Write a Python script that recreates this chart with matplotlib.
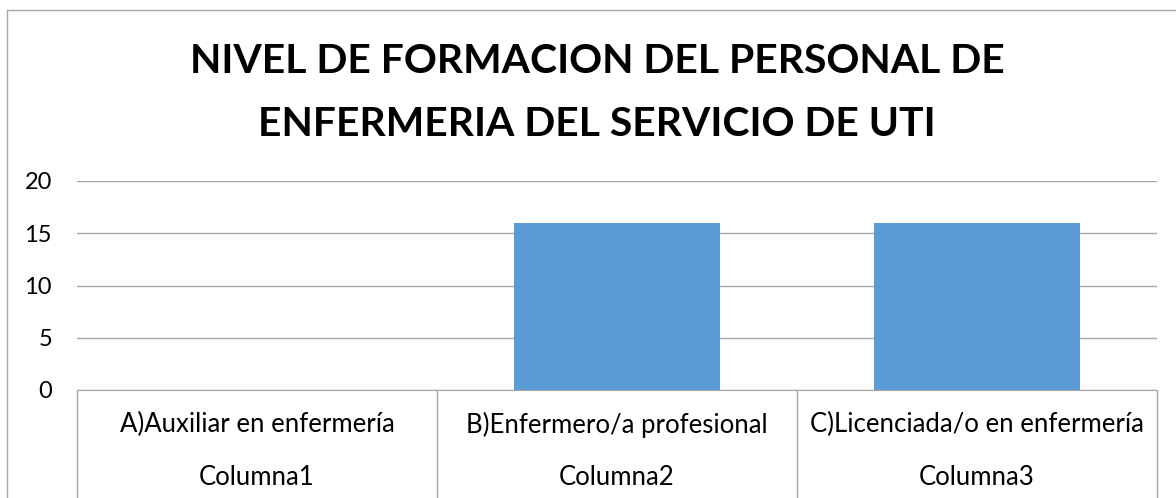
import matplotlib
matplotlib.use('Agg')
import matplotlib.pyplot as plt
from matplotlib.lines import Line2D

plt.rcParams['font.family'] = ['Lato', 'DejaVu Sans']

categorias = ['A)Auxiliar en enfermería', 'B)Enfermero/a profesional', 'C)Licenciada/o en enfermería']
columnas = ['Columna1', 'Columna2', 'Columna3']
valores = [0, 16, 16]
titulo = 'NIVEL DE FORMACION DEL PERSONAL DE\nENFERMERIA DEL SERVICIO DE UTI'
yticks = [0, 5, 10, 15, 20]

W, H = 1176, 498
gris = '#A6A6A6'

fig = plt.figure(figsize=(W / 100, H / 100), dpi=100)
ax = fig.add_axes([77 / W, 1 - 390 / H, 1080 / W, 209 / H])

x = list(range(len(categorias)))
ax.bar(x, valores, width=0.57, color='#5B9BD5', zorder=2)

ax.set_xlim(-0.5, len(categorias) - 0.5)
ax.set_ylim(0, 20)
ax.set_yticks(yticks)
ax.yaxis.grid(True, color=gris, lw=1, zorder=0)
ax.tick_params(axis='y', length=0, pad=18, labelsize=17, colors='black')

for s in ['top', 'right', 'left']:
    ax.spines[s].set_visible(False)
ax.spines['bottom'].set_color(gris)
ax.spines['bottom'].set_zorder(3)

# multi-level category axis: separators as long minor ticks
ax.set_xticks(x)
ax.set_xticklabels([])
ax.tick_params(axis='x', which='major', length=0)
ax.set_xticks([i - 0.5 for i in range(len(categorias) + 1)], minor=True)
ax.tick_params(axis='x', which='minor', length=80, width=1, color=gris, direction='out')

tr = ax.get_xaxis_transform()
for i, (c, col) in enumerate(zip(categorias, columnas)):
    ax.text(i, -0.165, c, transform=tr, ha='center', va='center', fontsize=18.5)
    ax.text(i, -0.42, col, transform=tr, ha='center', va='center', fontsize=18.5)

fig.text(597 / W, 1 - 93 / H, titulo, ha='center', va='center',
         fontsize=29.4, fontweight='bold', linespacing=1.85)

# chart area border (partially cropped)
fig.add_artist(Line2D([7 / W, 7 / W], [0, 1 - 10 / H], transform=fig.transFigure, color=gris, lw=1))
fig.add_artist(Line2D([7 / W, 1], [1 - 10 / H, 1 - 10 / H], transform=fig.transFigure, color=gris, lw=1))

fig.savefig('out.png', dpi=100)
